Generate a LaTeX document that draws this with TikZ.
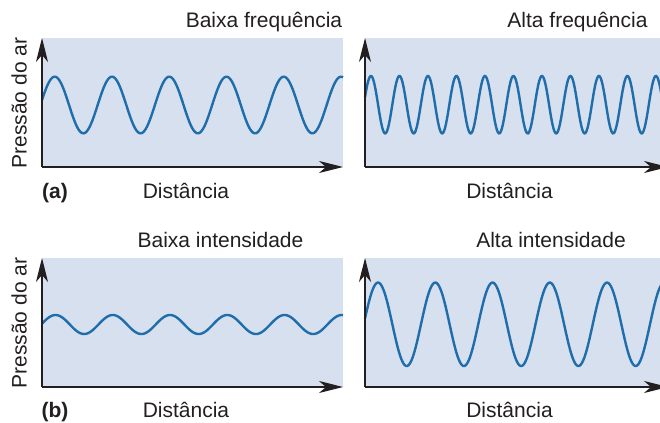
\documentclass[tikz,border=0pt]{standalone}
\usepackage{fontspec}
\setmainfont{Liberation Sans}
\usepackage{tikz}
\usetikzlibrary{arrows.meta, positioning}

\definecolor{panelfill}{HTML}{D6E0EE}
\definecolor{wavecol}{HTML}{1F6DAA}
\definecolor{axiscol}{HTML}{231F20}

\tikzset{
    panel/.style={fill=panelfill, draw=none},
    axisline/.style={draw=axiscol, line width=1.2bp, -{Stealth[length=24bp, width=12bp, inset=7bp]}},
    wave/.style={draw=wavecol, line width=2.4bp, smooth, samples=400},
    lbl/.style={font=\fontsize{21bp}{24bp}\selectfont, text=axiscol, inner sep=0pt},
    tag/.style={lbl, font=\fontsize{21bp}{24bp}\selectfont\bfseries}
}

\begin{document}
\begin{tikzpicture}[x=1bp, y=1bp]
    \useasboundingbox (0,0) rectangle (660,422);

    % Panel corners: origin, top of y axis, end of x axis
    \coordinate (oA) at (42,255);  \coordinate (tA) at (42,384);  \coordinate (rA) at (343,255);
    \coordinate (oB) at (365,255); \coordinate (tB) at (365,384); \coordinate (rB) at (668,255);
    \coordinate (oC) at (42,35);   \coordinate (tC) at (42,164);  \coordinate (rC) at (343,35);
    \coordinate (oD) at (365,35);  \coordinate (tD) at (365,164); \coordinate (rD) at (668,35);

    % Shaded plot areas
    \foreach \p in {A,B,C,D}
        \path[panel] (o\p) rectangle (r\p |- t\p);

    % (a) low frequency wave
    \draw[wave, domain=42:343] plot (\x, {317 + 28.3*sin(6.288*(\x-42) + 10)});
    % (a) high frequency wave
    \draw[wave, domain=365:662] plot (\x, {317.3 + 28.7*sin(12.632*(\x-365) + 15)});
    % (b) low intensity wave
    \draw[wave, domain=42:343] plot (\x, {97.5 + 9.5*sin(6.288*(\x-42) + 5)});
    % (b) high intensity wave
    \draw[wave, domain=365:662] plot (\x, {97.7 + 41.7*sin(6.288*(\x-365) + 8)});

    % Axes with arrow heads
    \foreach \p in {A,B,C,D} {
        \draw[axisline] (o\p) -- (t\p);
        \draw[axisline] (o\p) -- (r\p);
    }

    % Panel titles
    \node[lbl, anchor=base] (titA) at (264,394.3) {Baixa frequência};
    \node[lbl, anchor=base] (titB) at (577.5,394.3) {Alta frequência};
    \node[lbl, anchor=base] (titC) at (220.5,174.3) {Baixa intensidade};
    \node[lbl, anchor=base] (titD) at (551,174.3) {Alta intensidade};

    % Axis labels
    \node[lbl, anchor=base, rotate=90] (yA) at (26.7,319) {Pressão do ar};
    \node[lbl, anchor=base, rotate=90] (yC) at (26.7,99) {Pressão do ar};
    \node[lbl, anchor=base] (xA) at (186,223.7) {Distância};
    \node[lbl, anchor=base] (xB) at (509.5,223.7) {Distância};
    \node[lbl, anchor=base] (xC) at (186,4.3) {Distância};
    \node[lbl, anchor=base] (xD) at (509.5,4.3) {Distância};

    % Part tags
    \node[tag, anchor=base] (tagA) at (55,223.7) {(a)};
    \node[tag, anchor=base] (tagB) at (55,4.3) {(b)};

\end{tikzpicture}
\end{document}
